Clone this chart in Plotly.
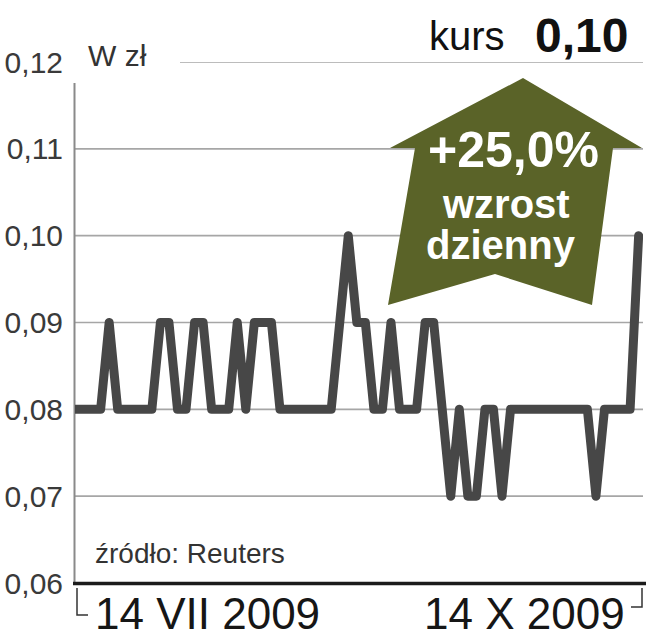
import pandas as pd
import plotly.graph_objects as go

# ---- data ----
dates = [d.strftime("%Y-%m-%d") for d in pd.bdate_range("2009-07-14", "2009-10-14")]
prices = [
    0.08, 0.08, 0.08, 0.08, 0.09, 0.08, 0.08, 0.08, 0.08, 0.08,
    0.09, 0.09, 0.08, 0.08, 0.09, 0.09, 0.08, 0.08, 0.08, 0.09,
    0.08, 0.09, 0.09, 0.09, 0.08, 0.08, 0.08, 0.08, 0.08, 0.08,
    0.08, 0.09, 0.10, 0.09, 0.09, 0.08, 0.08, 0.09, 0.08, 0.08,
    0.08, 0.09, 0.09, 0.08, 0.07, 0.08, 0.07, 0.07, 0.08, 0.08,
    0.07, 0.08, 0.08, 0.08, 0.08, 0.08, 0.08, 0.08, 0.08, 0.08,
    0.08, 0.07, 0.08, 0.08, 0.08, 0.08, 0.10,
]
y_ticks = [0.06, 0.07, 0.08, 0.09, 0.10, 0.11, 0.12]
y_tick_labels = ["0,06", "0,07", "0,08", "0,09", "0,10", "0,11", "0,12"]
x_labels = ["14 VII 2009", "14 X 2009"]
unit_label = "W zł"
source_label = "źródło: Reuters"
last_price_label = "0,10"
change_lines = ["+25,0%", "wzrost", "dzienny"]

# ---- geometry (pixels) ----
W_FIG, H_FIG = 646, 640
L, R, T, B = 75, 3, 62, 57
PW = W_FIG - L - R
PH = H_FIG - T - B


def px(xp):
    return (xp - L) / PW


def py(yp):
    return (H_FIG - B - yp) / PH


FONT = "Liberation Sans, Arial, sans-serif"

fig = go.Figure()
fig.add_trace(go.Scatter(
    x=dates, y=prices, mode="lines",
    line=dict(color="#474747", width=9),
    hoverinfo="x+y", showlegend=False,
))

shapes = []
# gridlines
for v in y_ticks[1:-1]:
    shapes.append(dict(type="line", xref="paper", yref="y", x0=0, x1=1, y0=v, y1=v,
                       line=dict(color="#a6a6a6", width=1.6), layer="below"))
shapes.append(dict(type="line", xref="paper", yref="y", x0=px(180), x1=1,
                   y0=y_ticks[-1], y1=y_ticks[-1],
                   line=dict(color="#a6a6a6", width=1.6), layer="below"))
# y axis line
shapes.append(dict(type="line", xref="paper", yref="paper", x0=px(74.5), x1=px(74.5),
                   y0=py(583), y1=py(83), line=dict(color="#8a8a8a", width=2), layer="below"))
# bottom axis line
shapes.append(dict(type="line", xref="paper", yref="paper", x0=px(73), x1=px(646),
                   y0=py(583.5), y1=py(583.5), line=dict(color="#1c1c1c", width=3.5), layer="above"))
# brackets
shapes.append(dict(type="path", xref="paper", yref="paper",
                   path=f"M {px(77)},{py(588)} L {px(77)},{py(615)} L {px(88)},{py(615)}",
                   line=dict(color="#333333", width=1.5)))
shapes.append(dict(type="path", xref="paper", yref="paper",
                   path=f"M {px(642)},{py(588)} L {px(642)},{py(607)} L {px(631)},{py(607)}",
                   line=dict(color="#333333", width=1.5)))
# arrow
pts = [(523, 78), (642, 148), (613, 148), (592, 305), (495, 274), (388, 305), (415, 148), (390, 148)]
path = "M " + " L ".join(f"{px(a)},{py(b)}" for a, b in pts) + " Z"
shapes.append(dict(type="path", xref="paper", yref="paper", path=path,
                   fillcolor="#5a6328", line=dict(width=0), layer="above"))

annotations = []


def ann(text, x, y, size, xanchor="left", color="#222222", bold=False, family=FONT):
    t = f"<b>{text}</b>" if bold else text
    annotations.append(dict(text=t, x=px(x), y=py(y), xref="paper", yref="paper",
                            xanchor=xanchor, yanchor="middle", showarrow=False,
                            font=dict(family=family, size=size, color=color)))


ann("kurs", 507, 36, 40, xanchor="right", color="#111111")
ann(last_price_label, 630, 36, 48, xanchor="right", color="#111111", bold=True)
ann(unit_label, 86, 56, 30, color="#333333")
ann(source_label, 93, 553, 28, color="#333333")
ann(x_labels[0], 93, 613, 44, color="#161616")
ann(x_labels[1], 627, 613, 44, xanchor="right", color="#161616")
ann(change_lines[0], 513, 150, 50, xanchor="center", color="#ffffff", bold=True)
ann(change_lines[1], 506, 204, 40, xanchor="center", color="#ffffff", bold=True)
ann(change_lines[2], 501, 245, 40, xanchor="center", color="#ffffff", bold=True)

fig.update_layout(
    width=W_FIG, height=H_FIG,
    margin=dict(l=L, r=R, t=T, b=B, pad=0),
    paper_bgcolor="white", plot_bgcolor="white",
    shapes=shapes, annotations=annotations,
    xaxis=dict(type="category", range=[0, PW / 8.54], showticklabels=False,
               showgrid=False, zeroline=False, showline=False, fixedrange=True),
    yaxis=dict(range=[0.06, 0.12], tickvals=y_ticks, ticktext=y_tick_labels,
               showgrid=False, zeroline=False, showline=False, ticks="",
               ticklabelstandoff=11,
               tickfont=dict(family=FONT, size=30, color="#3a3a3a"), fixedrange=True),
    showlegend=False,
)

fig.write_html(
    "out.html",
    config={"displayModeBar": False},
    post_script=(
        "document.body.style.margin='0';document.body.style.overflow='hidden';"
        "document.querySelectorAll('.scatterlayer .js-line').forEach(function(p){"
        "p.style.strokeLinejoin='round';p.style.strokeLinecap='round';});"
    ),
)
